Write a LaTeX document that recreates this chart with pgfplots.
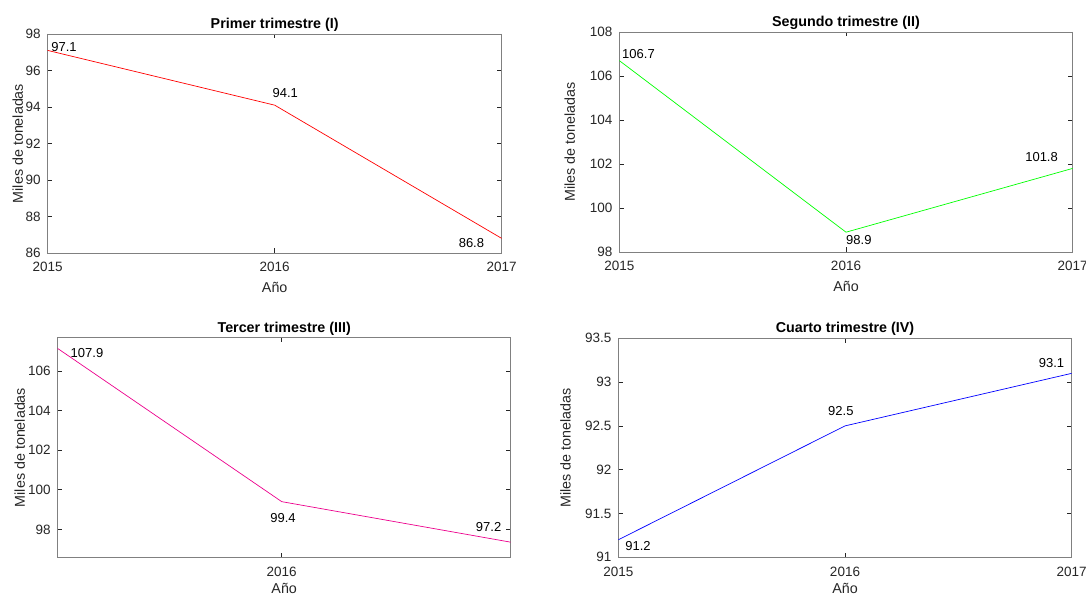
\documentclass[border=0pt]{standalone}
\usepackage{fontspec}
\setmainfont{Liberation Sans}
\usepackage{pgfplots}
\pgfplotsset{compat=1.18}
\definecolor{axgray}{RGB}{38,38,38}
\pgfplotsset{mlab/.style={
  scale only axis,
  axis line style={black!50, line width=0.7pt},
  tick align=inside, major tick length=4.5pt,
  tick style={axgray, line width=0.6pt},
  ticklabel style={font=\fontsize{13.5}{15}\selectfont, text=axgray},
  xticklabel shift=6pt, yticklabel shift=3.5pt,
  /pgf/number format/assume math mode=true,
  /pgf/number format/1000 sep={},
  label style={font=\fontsize{14.3}{16}\selectfont, text=axgray},
  xlabel style={yshift=-3pt},
  title style={font=\bfseries\fontsize{14.3}{16}\selectfont, yshift=-7pt},
  xlabel={Año}, ylabel={Miles de toneladas},
  every axis plot/.append style={line width=0.7pt, mark=none},
  anchor=south west,
}}
\tikzset{dl/.style={anchor=west, inner sep=0pt, font=\fontsize{13}{15}\selectfont, text=black}}
\begin{document}
\begin{tikzpicture}
\useasboundingbox (0,0) rectangle (1086pt,596pt);
% Plot 1
\begin{axis}[mlab, at={(47.7pt,343pt)}, width=454pt, height=219pt,
  title={Primer trimestre (I)},
  ylabel style={at={(axis description cs:-0.066,0.5)}, anchor=center},
  xmin=2015, xmax=2017, ymin=86, ymax=98,
  xtick={2015,2016,2017}, ytick={86,88,...,98}]
\addplot[red] coordinates {(2015,97.1) (2016,94.1) (2017,86.8)};
\node[dl] at (axis cs:2015.015,97.26) {97.1};
\node[dl] at (axis cs:2015.99,94.79) {94.1};
\node[dl] at (axis cs:2016.81,86.56) {86.8};
\end{axis}
% Plot 2
\begin{axis}[mlab, at={(619.3pt,344pt)}, width=453.4pt, height=220pt,
  title={Segundo trimestre (II)},
  ylabel style={at={(axis description cs:-0.1095,0.5)}, anchor=center},
  xmin=2015, xmax=2017, ymin=98, ymax=108,
  xtick={2015,2016,2017}, ytick={98,100,...,108}]
\addplot[green] coordinates {(2015,106.7) (2016,98.9) (2017,101.8)};
\node[dl] at (axis cs:2015.012,107.0) {106.7};
\node[dl] at (axis cs:2016.0,98.55) {98.9};
\node[dl] at (axis cs:2016.79,102.32) {101.8};
\end{axis}
% Plot 3
\begin{axis}[mlab, at={(57.7pt,38.7pt)}, width=453pt, height=219.6pt,
  title={Tercer trimestre (III)},
  xlabel style={yshift=3pt},
  ylabel style={at={(axis description cs:-0.0837,0.5)}, anchor=center},
  xmin=2015.09, xmax=2016.93, ymin=96.59, ymax=107.68,
  xtick={2016}, ytick={98,100,...,106}]
\addplot[magenta] coordinates {(2015,107.9) (2016,99.4) (2017,97.2)};
\node[dl] at (axis cs:2015.142,106.92) {107.9};
\node[dl] at (axis cs:2015.953,98.56) {99.4};
\node[dl] at (axis cs:2016.788,98.1) {97.2};
\end{axis}
% Plot 4
\begin{axis}[mlab, at={(618.3pt,38.7pt)}, width=453.4pt, height=219pt,
  title={Cuarto trimestre (IV)},
  xlabel style={yshift=3pt},
  ylabel style={at={(axis description cs:-0.1165,0.5)}, anchor=center},
  xmin=2015, xmax=2017, ymin=91, ymax=93.5,
  xtick={2015,2016,2017}, ytick={91,91.5,...,93.5}]
\addplot[blue] coordinates {(2015,91.2) (2016,92.5) (2017,93.1)};
\node[dl] at (axis cs:2015.03,91.13) {91.2};
\node[dl] at (axis cs:2015.925,92.67) {92.5};
\node[dl] at (axis cs:2016.854,93.22) {93.1};
\end{axis}
\end{tikzpicture}
\end{document}
